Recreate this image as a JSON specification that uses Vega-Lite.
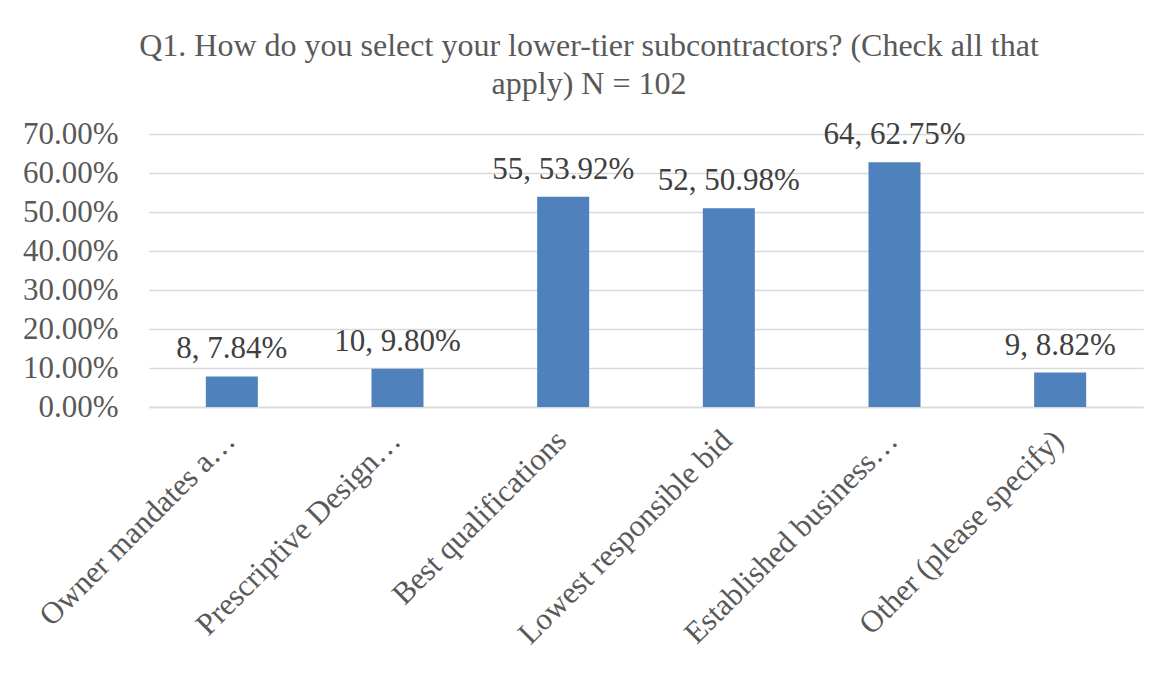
{
  "$schema": "https://vega.github.io/schema/vega-lite/v6.json",
  "autosize": {"type": "none"},
  "width": 994,
  "height": 273,
  "padding": {"left": 149, "top": 134, "right": 21, "bottom": 267},
  "background": "white",
  "title": {
    "text": ["Q1. How do you select your lower-tier subcontractors? (Check all that", "apply) N = 102"],
    "font": "Liberation Serif",
    "fontSize": 32,
    "fontWeight": "normal",
    "color": "#595959",
    "anchor": "middle",
    "dx": -57,
    "lineHeight": 38,
    "offset": 17
  },
  "data": {
    "values": [
      {"option": "Owner mandates a…", "count": 8, "pct": 0.0784, "label": "8, 7.84%"},
      {"option": "Prescriptive Design…", "count": 10, "pct": 0.098, "label": "10, 9.80%"},
      {"option": "Best qualifications", "count": 55, "pct": 0.5392, "label": "55, 53.92%"},
      {"option": "Lowest responsible bid", "count": 52, "pct": 0.5098, "label": "52, 50.98%"},
      {"option": "Established business…", "count": 64, "pct": 0.6275, "label": "64, 62.75%"},
      {"option": "Other (please specify)", "count": 9, "pct": 0.0882, "label": "9, 8.82%"}
    ]
  },
  "encoding": {
    "x": {
      "field": "option",
      "type": "nominal",
      "sort": null,
      "scale": {"paddingInner": 0.686, "paddingOuter": 0.343},
      "axis": {
        "title": null,
        "labelAngle": -45,
        "labelFont": "Liberation Serif",
        "labelFontSize": 31,
        "labelColor": "#595959",
        "labelLimit": 500,
        "labelPadding": 18,
        "labelOffset": -12,
        "ticks": false,
        "domainColor": "#D9D9D9",
        "domainWidth": 1.5
      }
    },
    "y": {
      "field": "pct",
      "type": "quantitative",
      "scale": {"domain": [0, 0.7], "nice": false},
      "axis": {
        "title": null,
        "format": ".2%",
        "values": [0, 0.1, 0.2, 0.3, 0.4, 0.5, 0.6, 0.7],
        "labelFont": "Liberation Serif",
        "labelFontSize": 31,
        "labelColor": "#595959",
        "labelPadding": 31,
        "ticks": false,
        "domain": false,
        "gridColor": "#D9D9D9",
        "gridWidth": 1.5
      }
    }
  },
  "layer": [
    {"mark": {"type": "bar", "color": "#4F81BD"}},
    {
      "mark": {"type": "text", "baseline": "alphabetic", "dy": -18, "font": "Liberation Serif", "fontSize": 31, "color": "#404040"},
      "encoding": {"text": {"field": "label"}}
    }
  ],
  "config": {"view": {"stroke": null}}
}
